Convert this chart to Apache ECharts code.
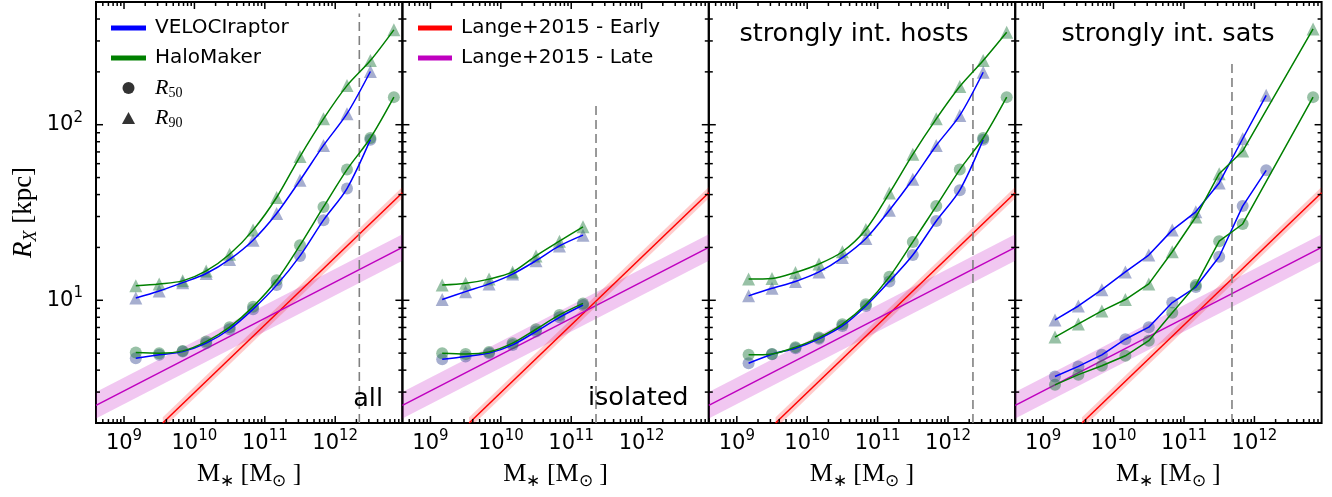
<!DOCTYPE html>
<html><head><meta charset="utf-8">
<script src="https://cdn.jsdelivr.net/npm/echarts@6/dist/echarts.min.js"></script>
<style>html,body{margin:0;padding:0;background:#fff;}#c{width:1332px;height:497px;}</style>
</head><body><div id="c"></div>
<script>
// ---------------- data ----------------
const MASS = [1.47e9, 3.16e9, 6.81e9, 1.47e10, 3.16e10, 6.81e10, 1.47e11, 3.16e11, 6.81e11, 1.47e12, 3.16e12, 6.81e12];
const PANEL_LABELS = ['all', 'isolated', 'strongly int. hosts', 'strongly int. sats'];

// panel 1: all
const VR50_ALL = [4.68, 4.89, 5.1, 5.7, 6.84, 8.9, 12.2, 17.9, 28.6, 43.3, 82.2, null];
const VR90_ALL = [10.3, 11.3, 12.6, 14.2, 17.1, 22.0, 31.2, 48.2, 76.2, 115.6, 201, null];
const HM50_ALL = [5.04, 5.0, 5.15, 5.82, 7.03, 9.2, 13.0, 20.6, 34.0, 55.5, 84, 143.6];
const HM90_ALL = [12.1, 12.4, 12.9, 14.7, 18.3, 25.1, 38.5, 65.9, 108, 167, 232, 347];
// panel 2: isolated
const VR50_ISO = [4.62, 4.79, 5.0, 5.57, 6.64, 8.0, 9.4];
const VR90_ISO = [10.1, 11.2, 12.4, 14.1, 16.8, 20.4, 23.5];
const HM50_ISO = [5.0, 4.95, 5.08, 5.7, 6.84, 8.25, 9.6];
const HM90_ISO = [12.2, 12.5, 13.2, 14.5, 17.9, 21.7, 26.2];
// panel 3: strongly interacting hosts
const VR50_HOST = [4.38, 4.93, 5.33, 6.03, 7.14, 9.28, 12.8, 18.1, 28.3, 42.4, 82.2, null];
const VR90_HOST = [10.6, 11.7, 12.8, 14.5, 17.5, 22.5, 32.6, 48.9, 76.2, 113, 199, null];
const HM50_HOST = [4.89, 4.95, 5.41, 6.13, 7.31, 9.49, 13.6, 21.5, 34.4, 55.5, 84, 143.6];
const HM90_HOST = [13.2, 13.3, 14.4, 16.1, 18.9, 25.3, 40.8, 67.8, 108, 165, 232, 336];
// panel 4: strongly interacting satellites
const VR50_SAT = [3.68, 4.2, 4.89, 6.0, 7.03, 9.7, 11.9, 17.7, 34.4, 55, null, null];
const VR90_SAT = [7.73, 9.28, 11.5, 14.5, 18.1, 25.1, 31.9, 46.6, 83.2, 147, null, null];
const HM50_SAT = [3.3, 3.77, 4.24, 4.83, 5.89, 8.5, 12.2, 21.7, 27.2, null, null, 143.6];
const HM90_SAT = [6.17, 7.33, 8.7, 10.1, 12.4, 18.9, 29.8, 52.6, 70.8, null, null, 351];

// vertical dashed lines (x position, top y value)
const VLINE_X = [2.2e12, 2.25e11, 2.26e12, 4.8e11];
const VLINE_TOP = [430, 130, 230, 230];

// Lange+2015 relations
const EARLY_X = [3.55e9, 9e12];
const EARLY_Y = [2.0, 41.0];
const EARLY_LO = [1.86, 38.1];
const EARLY_HI = [2.16, 44.2];
const LATE_X = [4e8, 9e12];
const LATE_Y = [2.52, 20.0];
const LATE_LO = [2.12, 16.8];
const LATE_HI = [3.0, 23.8];

// axes
const X_MIN = 4e8, X_MAX = 9e12, Y_MIN = 2, Y_MAX = 500;
const X_MAJOR = [1e9, 1e10, 1e11, 1e12];
const X_MINOR = [5e8,6e8,7e8,8e8,9e8, 2e9,3e9,4e9,5e9,6e9,7e9,8e9,9e9, 2e10,3e10,4e10,5e10,6e10,7e10,8e10,9e10,
                 2e11,3e11,4e11,5e11,6e11,7e11,8e11,9e11, 2e12,3e12,4e12,5e12,6e12,7e12,8e12,9e12];
const Y_MAJOR = [10, 100];
const Y_MINOR = [2,3,4,5,6,7,8,9, 20,30,40,50,60,70,80,90, 200,300,400,500];

// ---------------- chart ----------------
const PANELS = [
  [VR50_ALL, VR90_ALL, HM50_ALL, HM90_ALL],
  [VR50_ISO, VR90_ISO, HM50_ISO, HM90_ISO],
  [VR50_HOST, VR90_HOST, HM50_HOST, HM90_HOST],
  [VR50_SAT, VR90_SAT, HM50_SAT, HM90_SAT]
];
const SMOOTH = [0.3, 0.3, 0.3, 0];
const GL = [96, 402.4, 708.8, 1015.2], GW = 306.4, GT = 2, GH = 421;
const BLUE = '#0000ff', GREEN = '#008000';
const VR_MK = 'rgba(70,85,155,0.6)', HM_MK = 'rgba(40,125,70,0.6)';
const SANS = 'DejaVu Sans', SERIF = 'Liberation Serif';

const pairs = (xs, ys) => xs.map((x, i) => [x, ys[i]]).slice(0, ys.length);

function bandSeries(gi, xs, lo, hi, color) {
  return {
    type: 'custom', xAxisIndex: gi, yAxisIndex: gi, silent: true, z: 1,
    data: xs.map((x, i) => [x, lo[i], hi[i]]),
    encode: { x: 0, y: [1, 2] },
    renderItem: function (params, api) {
      if (params.dataIndexInside !== 0) return;
      const n = xs.length, pts = [];
      for (let i = 0; i < n; i++) pts.push(api.coord([api.value(0, i), api.value(2, i)]));
      for (let i = n - 1; i >= 0; i--) pts.push(api.coord([api.value(0, i), api.value(1, i)]));
      const cs = params.coordSys;
      return { type: 'polygon', shape: { points: pts }, style: { fill: color },
               clipPath: { type: 'rect', shape: { x: cs.x, y: cs.y, width: cs.width, height: cs.height } } };
    }
  };
}

function tickSeries(gi) {
  const data = [];
  X_MINOR.forEach(v => data.push([v, 10, 0]));
  X_MAJOR.forEach(v => data.push([v, 10, 1]));
  Y_MINOR.forEach(v => data.push([1e10, v, 2]));
  Y_MAJOR.forEach(v => data.push([1e10, v, 3]));
  return {
    type: 'custom', xAxisIndex: gi, yAxisIndex: gi, silent: true, z: 10,
    data: data, encode: { x: 0, y: 1 },
    renderItem: function (params, api) {
      const cs = params.coordSys;
      const kind = api.value(2);
      const len = (kind === 1 || kind === 3) ? 7 : 4;
      const st = { stroke: '#000', lineWidth: 1.5 };
      if (kind < 2) {
        const px = api.coord([api.value(0), 10])[0];
        if (px < cs.x + 1 || px > cs.x + cs.width - 1) return;
        return { type: 'group', children: [
          { type: 'line', shape: { x1: px, y1: cs.y + cs.height, x2: px, y2: cs.y + cs.height - len }, style: st },
          { type: 'line', shape: { x1: px, y1: cs.y, x2: px, y2: cs.y + len }, style: st }
        ] };
      } else {
        const py = api.coord([1e10, api.value(1)])[1];
        if (py < cs.y + 1 || py > cs.y + cs.height - 1) return;
        return { type: 'group', children: [
          { type: 'line', shape: { x1: cs.x, y1: py, x2: cs.x + len, y2: py }, style: st },
          { type: 'line', shape: { x1: cs.x + cs.width, y1: py, x2: cs.x + cs.width - len, y2: py }, style: st }
        ] };
      }
    }
  };
}

const grids = [], xAxes = [], yAxes = [], series = [];
const supRich = {
  b: { fontFamily: SANS, fontSize: 21, lineHeight: 29, color: '#000' },
  s: { fontFamily: SANS, fontSize: 15, lineHeight: 15, verticalAlign: 'top', color: '#000' }
};
const expFmt = v => '{b|10}{s|' + Math.round(Math.log10(v)) + '}';

for (let p = 0; p < 4; p++) {
  grids.push({ left: GL[p], top: GT, width: GW, height: GH, show: true, borderColor: '#000', borderWidth: 2, backgroundColor: 'transparent' });
  xAxes.push({
    type: 'log', logBase: 10, gridIndex: p, min: X_MIN, max: X_MAX,
    axisLine: { show: false }, axisTick: { show: false }, splitLine: { show: false },
    axisLabel: { show: true, margin: 6, showMinLabel: false, showMaxLabel: false, formatter: expFmt, rich: supRich },
    name: '{m|M}{s|∗}{m| [M}{s|⊙}{m| ]}', nameLocation: 'middle', nameGap: 35,
    nameTextStyle: { rich: {
      m: { fontFamily: SERIF, fontSize: 26, lineHeight: 32, color: '#000' },
      s: { fontFamily: SERIF, fontSize: 17, lineHeight: 17, verticalAlign: 'bottom', color: '#000' }
    } }
  });
  yAxes.push({
    type: 'log', logBase: 10, gridIndex: p, min: Y_MIN, max: Y_MAX,
    axisLine: { show: false }, axisTick: { show: false }, splitLine: { show: false },
    axisLabel: { show: p === 0, margin: 13, showMinLabel: false, showMaxLabel: false, formatter: expFmt, rich: supRich },
    name: p === 0 ? '{i|R}{si|X}{m| [kpc]}' : '', nameLocation: 'middle', nameGap: 56,
    nameTextStyle: { rich: {
      i: { fontFamily: SERIF, fontStyle: 'italic', fontSize: 27, lineHeight: 33, color: '#000' },
      si: { fontFamily: SERIF, fontStyle: 'italic', fontSize: 18, lineHeight: 18, verticalAlign: 'bottom', color: '#000' },
      m: { fontFamily: SERIF, fontSize: 27, lineHeight: 33, color: '#000' }
    } }
  });

  // Lange bands and lines
  series.push(bandSeries(p, LATE_X, LATE_LO, LATE_HI, 'rgba(191,0,191,0.22)'));
  series.push(bandSeries(p, EARLY_X, EARLY_LO, EARLY_HI, 'rgba(255,0,0,0.2)'));
  series.push({ type: 'line', name: 'Lange+2015 - Early', xAxisIndex: p, yAxisIndex: p, z: 2, silent: true,
    data: pairs(EARLY_X, EARLY_Y), showSymbol: false, lineStyle: { color: '#ff0000', width: 1.5 }, itemStyle: { color: '#ff0000' } });
  series.push({ type: 'line', name: 'Lange+2015 - Late', xAxisIndex: p, yAxisIndex: p, z: 2, silent: true,
    data: pairs(LATE_X, LATE_Y), showSymbol: false, lineStyle: { color: '#bf00bf', width: 1.5 }, itemStyle: { color: '#bf00bf' } });
  // dashed vertical line
  series.push({ type: 'line', name: 'limit', xAxisIndex: p, yAxisIndex: p, z: 2, silent: true,
    data: [[VLINE_X[p], Y_MIN], [VLINE_X[p], VLINE_TOP[p]]], showSymbol: false,
    lineStyle: { color: '#808080', width: 1.6, type: [9, 5] } });

  const [vr50, vr90, hm50, hm90] = PANELS[p];
  const mk = [[vr50, 'circle', 12, VR_MK, 'R50'], [vr90, 'triangle', 13, VR_MK, 'R90'],
              [hm50, 'circle', 12, HM_MK, 'R50'], [hm90, 'triangle', 13, HM_MK, 'R90']];
  mk.forEach(([ys, sym, sz, col, nm]) => {
    series.push({ type: 'scatter', name: nm, xAxisIndex: p, yAxisIndex: p, z: 3, silent: true,
      symbol: sym, symbolSize: sz, itemStyle: { color: col },
      data: pairs(MASS, ys).filter(d => d[1] != null) });
  });
  const ln = [[vr50, BLUE, 'VELOCIraptor'], [vr90, BLUE, 'VELOCIraptor'], [hm50, GREEN, 'HaloMaker'], [hm90, GREEN, 'HaloMaker']];
  ln.forEach(([ys, col, nm]) => {
    series.push({ type: 'line', name: nm, xAxisIndex: p, yAxisIndex: p, z: 4, silent: true,
      smooth: SMOOTH[p], showSymbol: false, connectNulls: true,
      lineStyle: { color: col, width: 1.5 }, itemStyle: { color: col },
      data: pairs(MASS, ys).filter(d => d[1] != null) });
  });
  series.push(tickSeries(p));
}

const legendText = {
  fontFamily: SANS, fontSize: 20, lineHeight: 24, color: '#000', padding: [0, 0, 0, 4],
  rich: {
    i: { fontFamily: SERIF, fontStyle: 'italic', fontSize: 22, lineHeight: 24, color: '#000' },
    sub: { fontFamily: SERIF, fontSize: 14, lineHeight: 14, verticalAlign: 'bottom', color: '#000' }
  }
};
const LINE_ICON = 'path://M0,0H35V5H0Z';
const TRI_ICON = 'path://M6,0L12,11H0Z';

const option = {
  animation: false,
  backgroundColor: '#fff',
  grid: grids, xAxis: xAxes, yAxis: yAxes, series: series,
  legend: [
    { orient: 'vertical', left: 111, top: 16, padding: 0, itemWidth: 35, itemHeight: 12, itemGap: 6,
      selectedMode: false, symbolKeepAspect: true, textStyle: legendText,
      formatter: n => n === 'R50' ? '{i|R}{sub|50}' : (n === 'R90' ? '{i|R}{sub|90}' : n),
      data: [
        { name: 'VELOCIraptor', icon: LINE_ICON, itemStyle: { color: BLUE } },
        { name: 'HaloMaker', icon: LINE_ICON, itemStyle: { color: GREEN } },
        { name: 'R50', icon: 'circle', itemStyle: { color: '#000' } },
        { name: 'R90', icon: TRI_ICON, itemStyle: { color: '#000' } }
      ] },
    { orient: 'vertical', left: 418, top: 16, padding: 0, itemWidth: 34, itemHeight: 12, itemGap: 6,
      selectedMode: false, symbolKeepAspect: true, textStyle: legendText,
      data: [
        { name: 'Lange+2015 - Early', icon: LINE_ICON, itemStyle: { color: '#ff0000' } },
        { name: 'Lange+2015 - Late', icon: LINE_ICON, itemStyle: { color: '#bf00bf' } }
      ] }
  ],
  graphic: [
    { type: 'text', x: 383, y: 399, z: 20, style: { text: PANEL_LABELS[0], font: '25.5px "DejaVu Sans"', fill: '#000', align: 'right', verticalAlign: 'middle' } },
    { type: 'text', x: 688.5, y: 398, z: 20, style: { text: PANEL_LABELS[1], font: '25.5px "DejaVu Sans"', fill: '#000', align: 'right', verticalAlign: 'middle' } },
    { type: 'text', x: 854, y: 34, z: 20, style: { text: PANEL_LABELS[2], font: '25.5px "DejaVu Sans"', fill: '#000', align: 'center', verticalAlign: 'middle' } },
    { type: 'text', x: 1168, y: 34, z: 20, style: { text: PANEL_LABELS[3], font: '25.5px "DejaVu Sans"', fill: '#000', align: 'center', verticalAlign: 'middle' } }
  ]
};

const chart = echarts.init(document.getElementById('c'), null, { renderer: 'canvas', width: 1332, height: 497 });
chart.setOption(option);
</script>
</body></html>
